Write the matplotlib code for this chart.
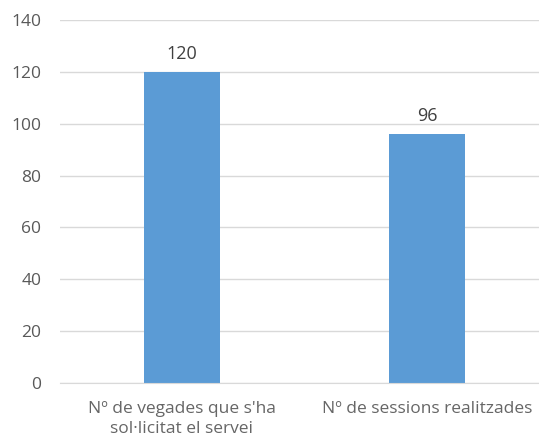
import matplotlib
matplotlib.use("Agg")
import matplotlib.pyplot as plt

# Data
categories = ["Nº de vegades que s'ha\nsol·licitat el servei", "Nº de sessions realitzades"]
values = [120, 96]
yticks = [0, 20, 40, 60, 80, 100, 120, 140]

plt.rcParams['font.family'] = ['Open Sans', 'DejaVu Sans']

fig = plt.figure(figsize=(5.39, 4.47), dpi=100)
ax = fig.add_axes([59.5 / 539, 1 - 383 / 447, 490 / 539, 363 / 447])

x = range(len(categories))
bars = ax.bar(x, values, width=0.31, color='#5B9BD5', zorder=3)

for b, v in zip(bars, values):
    ax.text(b.get_x() + b.get_width() / 2, v + 3.5, str(v), ha='center', va='bottom',
            fontsize=13, color='#404040')

ax.set_xlim(-0.5, 1.5)
ax.set_ylim(0, 140)
ax.set_yticks(yticks)
ax.set_xticks(list(x))
ax.set_xticklabels(categories, fontsize=12.5, color='#666666', linespacing=1.3)
ax.tick_params(axis='y', labelsize=12.5, labelcolor='#595959', length=0, pad=13)
ax.tick_params(axis='x', length=0, pad=13)

ax.grid(axis='y', color='#D9D9D9', linewidth=1, zorder=0)
for s in ['top', 'right', 'left']:
    ax.spines[s].set_visible(False)
ax.spines['bottom'].set_color('#D9D9D9')
ax.spines['bottom'].set_zorder(4)

fig.savefig('out.png', dpi=100)
